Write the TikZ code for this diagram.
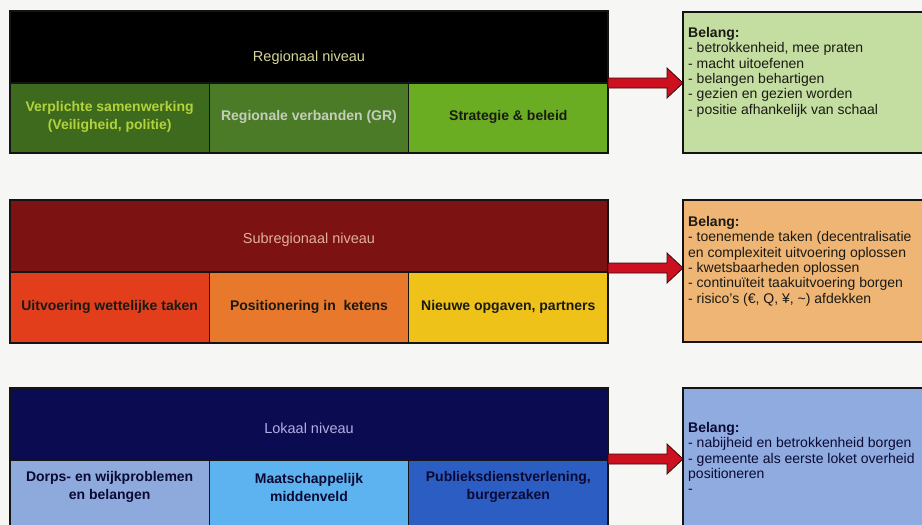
\documentclass[tikz,border=0pt]{standalone}
\usepackage{fontspec}
\setmainfont{Liberation Sans}
\usetikzlibrary{calc}
\definecolor{bg}{HTML}{F6F6F4}
\definecolor{boxline}{HTML}{141414}
\definecolor{gA}{HTML}{3D6A1C}
\definecolor{gB}{HTML}{4C7B28}
\definecolor{gC}{HTML}{6BAD22}
\definecolor{gR}{HTML}{C3DEA0}
\definecolor{rH}{HTML}{7D1212}
\definecolor{oA}{HTML}{E23E1C}
\definecolor{oB}{HTML}{E8782C}
\definecolor{oC}{HTML}{EFC21A}
\definecolor{oR}{HTML}{EFB574}
\definecolor{bH}{HTML}{0B0B52}
\definecolor{bA}{HTML}{8EA9DC}
\definecolor{bB}{HTML}{5CB3EF}
\definecolor{bC}{HTML}{2C5DC2}
\definecolor{bR}{HTML}{8FABDF}
\definecolor{arrowred}{HTML}{CC1020}
\definecolor{arrowedge}{HTML}{3A0808}
\definecolor{txtA}{HTML}{D6D69C}
\definecolor{txtB}{HTML}{E0B0A0}
\definecolor{txtC}{HTML}{B4ACE2}
\definecolor{txtG1}{HTML}{B4D23C}
\definecolor{txtG2}{HTML}{C4CEBC}
\definecolor{darktxt}{HTML}{1A1A14}
\definecolor{navytxt}{HTML}{0A0A34}
\begin{document}
\begin{tikzpicture}[x=1pt,y=-1pt,
  box/.style={draw=boxline, line width=1.2pt, rectangle, inner sep=0pt, outer sep=0pt},
  hdrtxt/.style={font=\fontsize{14.5}{16}\selectfont, inner sep=0pt},
  subtxt/.style={font=\bfseries\fontsize{14}{18}\selectfont, align=center, inner sep=0pt},
  beltxt/.style={font=\fontsize{14}{15.4}\selectfont, align=left, anchor=north west, inner sep=0pt, text=darktxt},
  bigarrow/.style={fill=arrowred, draw=arrowedge, line width=0.8pt, line join=miter}]
\useasboundingbox (0,0) rectangle (922,525);
\clip (0,0) rectangle (922,525);
\fill[bg] (0,0) rectangle (922,525);

% ---------- Regionaal ----------
\node[box, fill=black, minimum width=598pt, minimum height=72pt] (h1) at (309,47) {};
\node[box, fill=gA, minimum width=199.33pt, minimum height=70pt] (s11) at (109.67,118) {};
\node[box, fill=gB, minimum width=199.33pt, minimum height=70pt] (s12) at (309,118) {};
\node[box, fill=gC, minimum width=199.33pt, minimum height=70pt] (s13) at (508.33,118) {};
\node[hdrtxt, text=txtA] (h1t) at (309,58) {Regionaal niveau};
\node[subtxt, text=txtG1] (s11t) at (109.67,117) {Verplichte samenwerking\\(Veiligheid, politie)};
\node[subtxt, text=txtG2] (s12t) at (309,117) {Regionale verbanden (GR)};
\node[subtxt, text=darktxt] (s13t) at (508.33,117) {Strategie \& beleid};
\node[box, fill=gR, minimum width=252pt, minimum height=141pt] (r1) at (809,82.5) {};
\node[beltxt] (r1t) at (688,27) {\textbf{Belang:}\\- betrokkenheid, mee praten\\- macht uitoefenen\\- belangen behartigen\\- gezien en gezien worden\\- positie afhankelijk van schaal};

% ---------- Subregionaal ----------
\node[box, fill=rH, minimum width=598pt, minimum height=72pt] (h2) at (309,236) {};
\node[box, fill=oA, minimum width=199.33pt, minimum height=71pt] (s21) at (109.67,307.5) {};
\node[box, fill=oB, minimum width=199.33pt, minimum height=71pt] (s22) at (309,307.5) {};
\node[box, fill=oC, minimum width=199.33pt, minimum height=71pt] (s23) at (508.33,307.5) {};
\node[hdrtxt, text=txtB] (h2t) at (309,240) {Subregionaal niveau};
\node[subtxt, text=darktxt] (s21t) at (109.67,307) {Uitvoering wettelijke taken};
\node[subtxt, text=darktxt] (s22t) at (309,307) {Positionering in\ \ ketens};
\node[subtxt, text=darktxt] (s23t) at (508.33,307) {Nieuwe opgaven, partners};
\node[box, fill=oR, minimum width=252pt, minimum height=142pt] (r2) at (809,271) {};
\node[beltxt] (r2t) at (688,216) {\textbf{Belang:}\\- toenemende taken (decentralisatie\\en complexiteit uitvoering oplossen\\- kwetsbaarheden oplossen\\- continuïteit taakuitvoering borgen\\- risico's (€, Q, ¥, \textasciitilde) afdekken};

% ---------- Lokaal ----------
\node[box, fill=bH, minimum width=598pt, minimum height=72pt] (h3) at (309,424) {};
\node[box, fill=bA, minimum width=199.33pt, minimum height=72pt] (s31) at (109.67,496) {};
\node[box, fill=bB, minimum width=199.33pt, minimum height=72pt] (s32) at (309,496) {};
\node[box, fill=bC, minimum width=199.33pt, minimum height=72pt] (s33) at (508.33,496) {};
\node[hdrtxt, text=txtC] (h3t) at (309,428) {Lokaal niveau};
\node[subtxt, text=navytxt] (s31t) at (109.67,487) {Dorps- en wijkproblemen\\en belangen};
\node[subtxt, text=navytxt] (s32t) at (309,487) {Maatschappelijk\\middenveld};
\node[subtxt, text=navytxt] (s33t) at (508.33,487) {Publieksdienstverlening,\\burgerzaken};
\node[box, fill=bR, minimum width=252pt, minimum height=152pt] (r3) at (809,464) {};
\node[beltxt, text=navytxt] (r3t) at (688,422) {\textbf{Belang:}\\- nabijheid en betrokkenheid borgen\\- gemeente als eerste loket overheid\\positioneren\\-};

% ---------- arrows ----------
\foreach \h/\r/\dy in {h1/r1/0, h2/r2/-4, h3/r3/-1}{
  \coordinate (as) at ($(\h.south east)+(0,\dy)$);
  \coordinate (ae) at (\r.west |- as);
  \draw[bigarrow] ($(as)+(0,-5)$) -- ($(ae)+(-16,-5)$) -- ($(ae)+(-16,-15)$) -- (ae)
    -- ($(ae)+(-16,15)$) -- ($(ae)+(-16,5)$) -- ($(as)+(0,5)$) -- cycle;
}
\end{tikzpicture}
\end{document}
